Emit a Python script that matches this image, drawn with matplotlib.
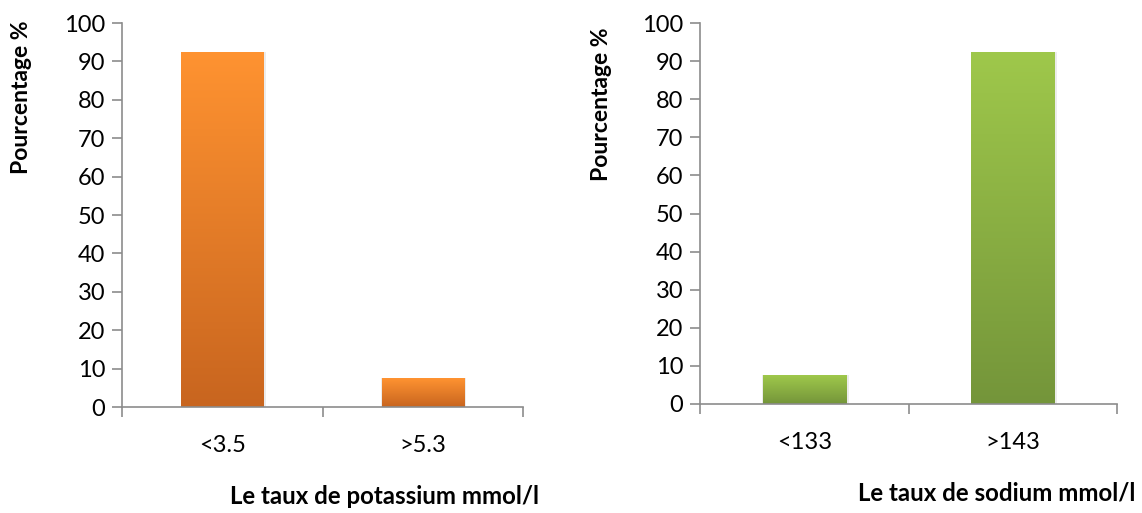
import matplotlib
matplotlib.use("Agg")
import matplotlib.pyplot as plt
import numpy as np
from matplotlib.colors import LinearSegmentedColormap

plt.rcParams['font.family'] = ['Lato', 'DejaVu Sans']

k_categories = ["<3.5", ">5.3"]
k_values = [92.5, 7.5]
na_categories = ["<133", ">143"]
na_values = [7.5, 92.5]

W, H = 1142, 513
fig = plt.figure(figsize=(W / 100, H / 100), dpi=100)

axL = fig.add_axes([122 / W, 1 - 407 / H, (523 - 122) / W, (407 - 23) / H])
axR = fig.add_axes([700 / W, 1 - 404 / H, (1117 - 700) / W, (404 - 23) / H])

def draw(ax, cats, vals, top_col, bot_col, width):
    x = np.arange(len(cats))
    bars = ax.bar(x, vals, width=width, color='none', edgecolor='none', zorder=2)
    cmap = LinearSegmentedColormap.from_list('g', [bot_col, top_col])
    grad = np.linspace(0, 1, 256).reshape(-1, 1)
    for b in bars:
        x0, y0 = b.get_x(), b.get_y()
        w, h = b.get_width(), b.get_height()
        # soft shadow
        ax.bar(x0 + w / 2 + 0.006, h + 0.3, width=w + 0.014, bottom=-0.3, color='#e0e0e0', alpha=0.6, zorder=1.5)
        im = ax.imshow(grad, cmap=cmap, origin='lower', aspect='auto',
                       extent=[x0, x0 + w, y0, y0 + h], zorder=2)
        im.set_clip_path(b)
    ax.set_xlim(-0.5, len(cats) - 0.5)
    ax.set_ylim(0, 100)
    ax.set_yticks(np.arange(0, 101, 10))
    ax.set_xticks([-0.5, 0.5, 1.5])
    ax.set_xticklabels([])
    ax.set_xticks(x, minor=True)
    ax.set_xticklabels(cats, minor=True)
    ax.tick_params(axis='x', which='minor', length=0, pad=20, labelsize=17)
    ax.tick_params(axis='x', which='major', length=7, width=1.2, color='#8c8c8c', direction='out')
    ax.tick_params(axis='y', length=7, width=1.2, color='#8c8c8c', labelsize=17, pad=5)
    for s in ['top', 'right']:
        ax.spines[s].set_visible(False)
    for s in ['left', 'bottom']:
        ax.spines[s].set_color('#8c8c8c')
        ax.spines[s].set_linewidth(1.2)

draw(axL, k_categories, k_values, '#ff9331', '#c8651f', 0.41)
draw(axR, na_categories, na_values, '#9fc84b', '#74953a', 0.40)

fig.text(22 / W, 1 - 97 / H, "Pourcentage %", rotation=90, ha='center', va='center',
         fontsize=16.5, fontweight='bold')
fig.text(602 / W, 1 - 104 / H, "Pourcentage %", rotation=90, ha='center', va='center',
         fontsize=16.5, fontweight='bold')
fig.text(384 / W, 1 - 497 / H, "Le taux de potassium mmol/l", ha='center', va='center',
         fontsize=17.3, fontweight='bold')
fig.text(997 / W, 1 - 493 / H, "Le taux de sodium mmol/l", ha='center', va='center',
         fontsize=17.3, fontweight='bold')

fig.savefig("out.png", dpi=100)
